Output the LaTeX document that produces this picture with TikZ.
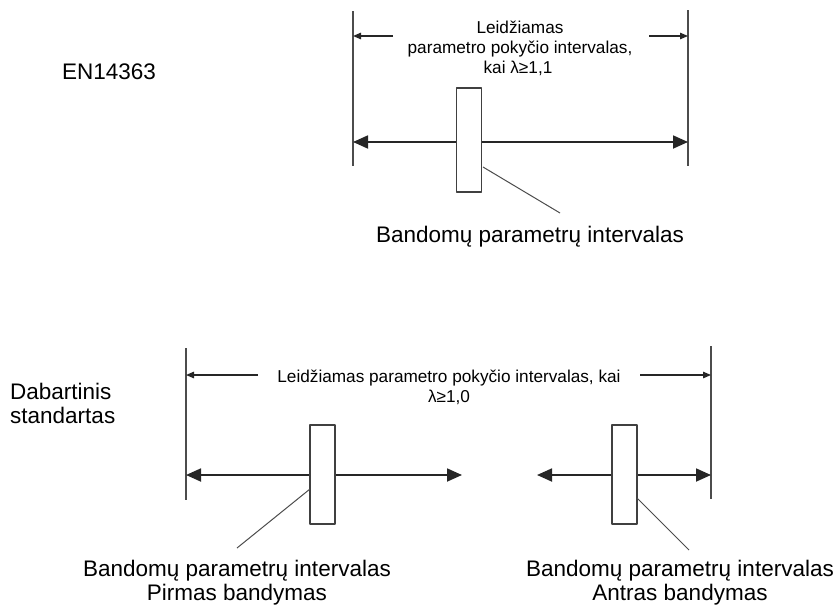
\documentclass[tikz,border=0pt]{standalone}
\usepackage{fontspec}
\setmainfont{Liberation Sans}
\usetikzlibrary{arrows.meta}

\begin{document}
\begin{tikzpicture}[x=1pt,y=-1pt,line join=round,
    limite/.style={line width=1.5pt,draw=black!70},
    freccia/.style={line width=1.8pt,draw=black!85,
      {Triangle[length=15pt,width=13pt]}-{Triangle[length=15pt,width=13pt]}},
    quota/.style={line width=1.3pt,draw=black!85,-{Triangle[length=8pt,width=6.5pt]}},
    scatola/.style={draw=black!75,line width=1.5pt,fill=white,inner sep=0pt,
      minimum width=25pt},
    guida/.style={line width=1pt,draw=black!70},
    piccolo/.style={inner sep=0pt,anchor=base,font=\fontsize{17.2}{20}\selectfont},
    grande/.style={inner sep=0pt,anchor=base,align=center,
      font=\fontsize{22.5}{23.5}\selectfont}]

  \useasboundingbox (0,0) rectangle (837,605);

  % ======================= parte superiore: EN14363 =======================
  \node[grande,anchor=base west] (en) at (62,79) {EN14363};

  \coordinate (a1) at (353,11);   \coordinate (a2) at (353,166);   % limite sinistro
  \coordinate (b1) at (688,10);   \coordinate (b2) at (688,166);   % limite destro
  \draw[limite] (a1) -- (a2)  (b1) -- (b2);

  \coordinate (d1) at (393,36);   \coordinate (d2) at (353,36);
  \coordinate (e1) at (649,36);   \coordinate (e2) at (688,36);
  \draw[quota] (d1) -- (d2);
  \draw[quota] (e1) -- (e2);

  \node[piccolo] (t1) at (520,33) {Leidžiamas};
  \node[piccolo] (t2) at (520,53) {parametro pokyčio intervalas,};
  \node[piccolo] (t3) at (518,73) {kai λ≥1,1};

  \coordinate (m1) at (353,142);  \coordinate (m2) at (688,142);
  \draw[freccia] (m1) -- (m2);
  \node[scatola,minimum height=104pt] (s) at (469,140) {};   % intervallo di prova

  \coordinate (g1) at (483,167);  \coordinate (g2) at (560,213);
  \draw[guida] (g1) -- (g2);
  \node[grande] (ls) at (530,242) {Bandomų parametrų intervalas};

  % ================= parte inferiore: standard attuale ====================
  \node[grande,anchor=base west] (da) at (10,399) {Dabartinis};
  \node[grande,anchor=base west] (st) at (10,423) {standartas};

  \coordinate (p1) at (186,348);  \coordinate (p2) at (186,500);   % limite sinistro
  \coordinate (q1) at (711,346);  \coordinate (q2) at (711,499);   % limite destro
  \draw[limite] (p1) -- (p2)  (q1) -- (q2);

  \coordinate (h1) at (258,375);  \coordinate (h2) at (186,375);
  \coordinate (k1) at (640,375);  \coordinate (k2) at (711,375);
  \draw[quota] (h1) -- (h2);
  \draw[quota] (k1) -- (k2);

  \node[piccolo] (u1) at (449,382) {Leidžiamas parametro pokyčio intervalas, kai};
  \node[piccolo] (u2) at (449,402) {λ≥1,0};

  \coordinate (n1) at (186,475);  \coordinate (n2) at (462,475);   % prima prova
  \coordinate (r1) at (537,475);  \coordinate (r2) at (711,475);   % seconda prova
  \draw[freccia] (n1) -- (n2);
  \draw[freccia] (r1) -- (r2);
  \node[scatola,minimum height=99pt] (s1) at (322.5,474.5) {};
  \node[scatola,minimum height=99pt] (s2) at (624.5,474.5) {};

  \coordinate (v1) at (310,489);  \coordinate (v2) at (237,548);
  \coordinate (w1) at (637,498);  \coordinate (w2) at (689,550);
  \draw[guida] (v1) -- (v2);
  \draw[guida] (w1) -- (w2);

  % ancora base = linea di base dell'ultima riga
  \node[grande] (l1) at (237,600) {Bandomų parametrų intervalas\\Pirmas bandymas};
  \node[grande] (l2) at (680,600) {Bandomų parametrų intervalas\\Antras bandymas};

\end{tikzpicture}
\end{document}
